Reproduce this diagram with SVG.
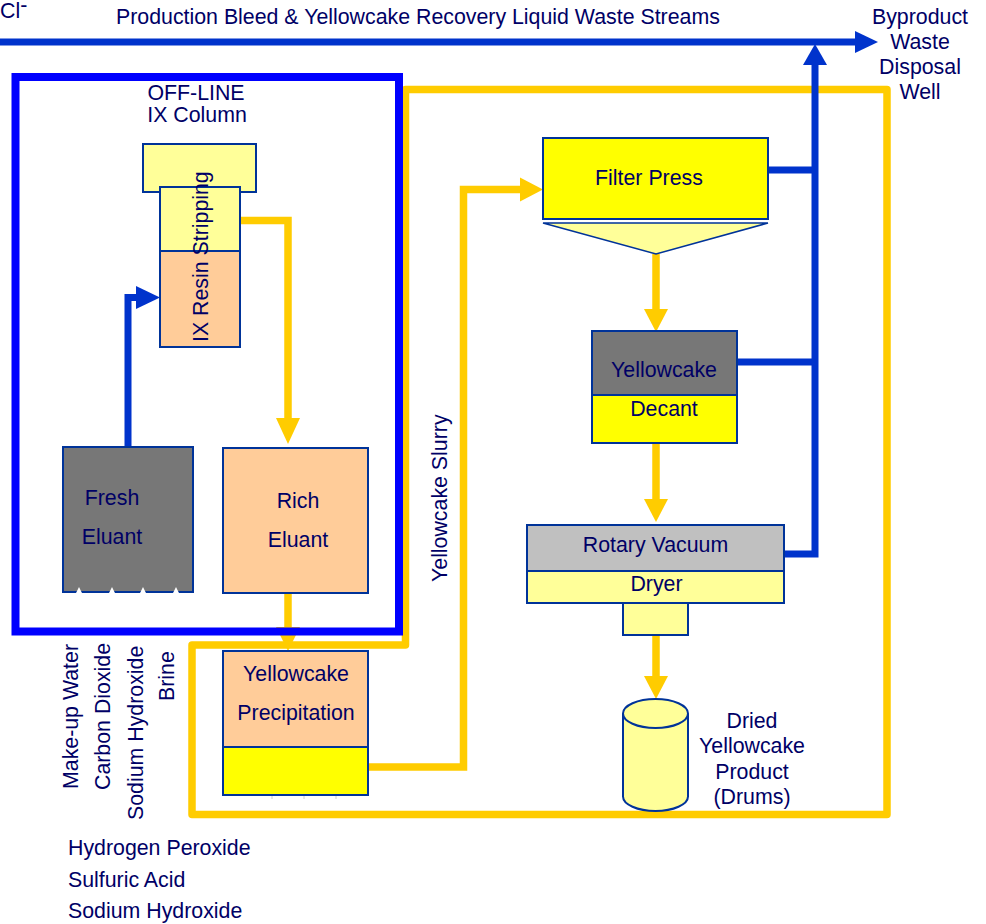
<svg xmlns="http://www.w3.org/2000/svg" width="986" height="924" viewBox="0 0 986 924">
<style>
text{font-family:"Liberation Sans",Arial,sans-serif;font-size:21.33px;fill:#000066}
.m{text-anchor:middle}
.box{stroke:#003399;stroke-width:2}
.y{fill:none;stroke:#FFCC00;stroke-width:7.5}
.b{fill:none;stroke:#0033CC;stroke-width:7}
.ya{fill:#FFCC00}
.ba{fill:#0033CC}
</style>
<rect width="986" height="924" fill="#fff"/>

<g id="connectors">
  <!-- yellow loop -->
  <path class="y" stroke-linejoin="round" d="M405.5,89.5 H887 V814.5 H192 V645 H405.5 Z"/>
  <!-- rich eluant to precipitation -->
  <path class="y" d="M288,593 V628"/>
  <polygon class="ya" points="276,627 300,627 288,651"/>
  <!-- IX stripping to rich eluant -->
  <path class="y" d="M240,220.5 H288 V420"/>
  <polygon class="ya" points="276,418 300,418 288,444"/>
  <!-- slurry to filter press -->
  <path class="y" d="M368,767 H463.5 V189.5 H522"/>
  <polygon class="ya" points="520,177.5 520,201.5 543,189.5"/>
  <!-- filter press to decant -->
  <path class="y" d="M656,254 V311"/>
  <polygon class="ya" points="644,309 668,309 656,332"/>
  <!-- decant to dryer -->
  <path class="y" d="M656,443 V501"/>
  <polygon class="ya" points="644,499 668,499 656,522"/>
  <!-- dryer to drum -->
  <path class="y" d="M656,635 V678"/>
  <polygon class="ya" points="644,676 668,676 656,699"/>
  <!-- top blue line -->
  <path class="b" d="M0,42 H857"/>
  <polygon class="ba" points="855,31 855,53 878,42"/>
  <!-- waste lines -->
  <path class="b" d="M784,554 H815 V63"/>
  <path class="b" d="M768,170 H815 M737,362 H815"/>
  <polygon class="ba" points="803,65 827,65 815,44"/>
  <!-- fresh eluant to IX -->
  <path class="b" d="M128,446 V297.5 H138"/>
  <polygon class="ba" points="136,286 136,309 160,297.5"/>
  <!-- offline box -->
  <rect x="15.5" y="77" width="383.5" height="554.5" fill="none" stroke="#0000FF" stroke-width="8"/>
</g>

<g id="cl-label"><text x="0" y="18">Cl<tspan dy="-6">-</tspan></text></g>
<g id="title"><text x="116" y="24">Production Bleed &amp; Yellowcake Recovery Liquid Waste Streams</text></g>
<g id="disposal-well">
  <text class="m" x="920" y="24">Byproduct</text>
  <text class="m" x="920" y="49">Waste</text>
  <text class="m" x="920" y="74">Disposal</text>
  <text class="m" x="920" y="99">Well</text>
</g>
<g id="offline-label">
  <text class="m" x="196" y="100">OFF-LINE</text>
  <text class="m" x="197" y="122">IX Column</text>
</g>

<g id="ix-column">
  <rect class="box" x="143" y="144" width="113" height="48" fill="#FFFF99"/>
  <rect class="box" x="160" y="187" width="80" height="64" fill="#FFFF99"/>
  <rect class="box" x="160" y="251" width="80" height="96" fill="#FFCC99"/>
  <text transform="translate(207.5,342) rotate(-90)">IX Resin Stripping</text>
</g>

<g id="fresh-eluant">
  <rect class="box" x="63" y="447" width="130" height="145" fill="#777777"/>
  <polygon fill="#fff" points="76,593 79,587 82,593 109,593 112,587 115,593 140,593 143,587 146,593 173,593 176,587 179,593"/>
  <text class="m" x="112" y="505">Fresh</text>
  <text class="m" x="112" y="544">Eluant</text>
</g>

<g id="rich-eluant">
  <rect class="box" x="223" y="448" width="145" height="145" fill="#FFCC99"/>
  <text class="m" x="298" y="508">Rich</text>
  <text class="m" x="298" y="547">Eluant</text>
</g>

<g id="precipitation">
  <rect class="box" x="223" y="651" width="145" height="96" fill="#FFCC99"/>
  <rect class="box" x="223" y="747" width="145" height="48" fill="#FFFF00"/>
  <path d="M272,796 V799 M304,796 V799 M336,796 V799" stroke="#ccc" stroke-width="1"/>
  <text class="m" x="296" y="681">Yellowcake</text>
  <text class="m" x="296" y="720">Precipitation</text>
</g>

<g id="reagents">
  <text transform="translate(78,789) rotate(-90)">Make-up Water</text>
  <text transform="translate(110,790) rotate(-90)">Carbon Dioxide</text>
  <text transform="translate(142.5,820) rotate(-90)">Sodium Hydroxide</text>
  <text transform="translate(173.5,701) rotate(-90)">Brine</text>
  <text x="68" y="855">Hydrogen Peroxide</text>
  <text x="68" y="887">Sulfuric Acid</text>
  <text x="68" y="918">Sodium Hydroxide</text>
</g>

<g id="slurry-label"><text transform="translate(447,582) rotate(-90)">Yellowcake Slurry</text></g>

<g id="filter-press">
  <rect class="box" x="543" y="138" width="225" height="81" fill="#FFFF00"/>
  <polygon points="543,223 768,223 656,254" fill="#FFFF99" stroke="#003399" stroke-width="1.5"/>
  <text class="m" x="649" y="185">Filter Press</text>
</g>

<g id="decant">
  <rect class="box" x="592" y="331" width="145" height="64" fill="#777777"/>
  <rect class="box" x="592" y="395" width="145" height="48" fill="#FFFF00"/>
  <text class="m" x="664" y="377">Yellowcake</text>
  <text class="m" x="664" y="416">Decant</text>
</g>

<g id="dryer">
  <rect class="box" x="527" y="525" width="257" height="46" fill="#C0C0C0"/>
  <rect class="box" x="527" y="571" width="257" height="32" fill="#FFFF99"/>
  <rect class="box" x="623" y="603" width="65" height="32" fill="#FFFF99"/>
  <text class="m" x="655.5" y="552">Rotary Vacuum</text>
  <text class="m" x="656.5" y="591">Dryer</text>
</g>

<g id="drum">
  <path d="M623,713.5 V796.5 A32.5,14.5 0 0 0 688,796.5 V713.5" fill="#FFFF99" stroke="#003399" stroke-width="2"/>
  <ellipse cx="655.5" cy="713.5" rx="32.5" ry="14.5" fill="#FFFF99" stroke="#003399" stroke-width="2"/>
  <text class="m" x="752" y="728">Dried</text>
  <text class="m" x="752" y="753">Yellowcake</text>
  <text class="m" x="752" y="779">Product</text>
  <text class="m" x="752" y="804">(Drums)</text>
</g>
</svg>
